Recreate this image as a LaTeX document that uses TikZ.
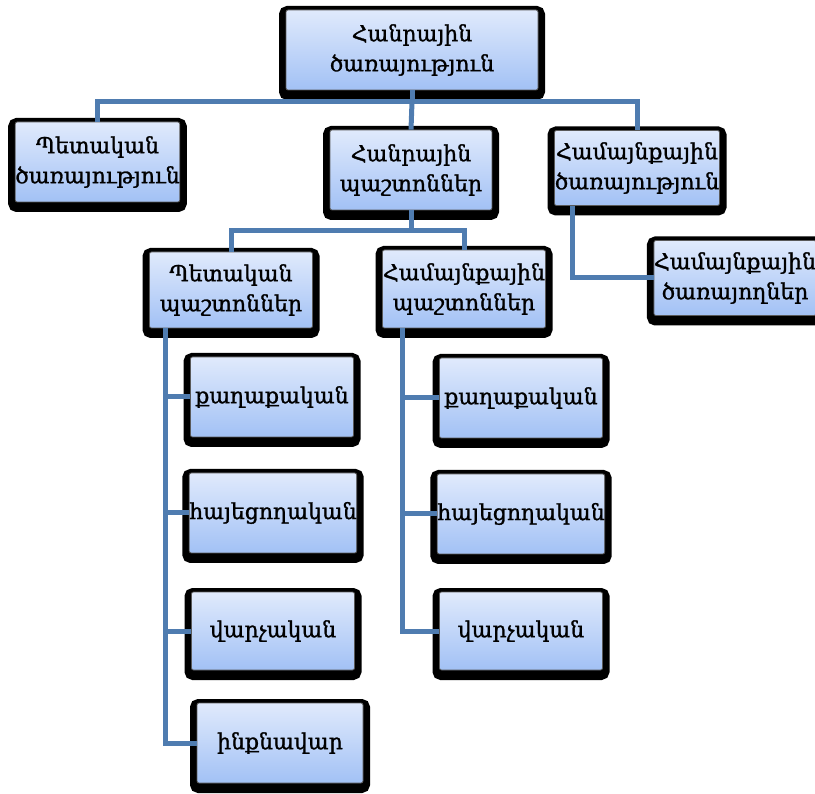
\documentclass[tikz,border=0pt]{standalone}
\usepackage{fontspec}
\setmainfont{DejaVu Serif}[FakeBold=1.2]
\usetikzlibrary{positioning,calc}
\definecolor{boxtop}{HTML}{E0EAFC}
\definecolor{boxbot}{HTML}{A2C1F5}
\definecolor{wire}{HTML}{4F7CB0}
\tikzset{
block/.style = {rectangle, rounded corners=2pt, draw=gray!70!black, line width=0.8pt,
  top color=boxtop, bottom color=boxbot, align=center, inner sep=0pt,
  minimum width=163pt, minimum height=80pt, font=\fontsize{22}{30}\selectfont,
  preaction={draw=black, line width=14pt, transform canvas={yshift=-3pt}}},
link/.style = {draw=wire, line width=5pt},
}
\begin{document}
\begin{tikzpicture}[x=1pt, y=-1pt]
    \useasboundingbox (0,0) rectangle (815,794);
    % top levels
    \node [block, minimum width=252pt] (root) at (412,50) {Հանրային\\ծառայություն};
    \node [block, minimum width=161pt] (psvc) at (97.5,162) {Պետական\\ծառայություն};
    \node [block, minimum width=162pt] (hpos) at (411,170) {Հանրային\\պաշտոններ};
    \node [block, minimum width=165pt, minimum height=75pt] (csvc) at (637,168) {Համայնքային\\ծառայություն};
    \node [block, minimum width=156pt, minimum height=75pt] (cemp) at (735,278) {Համայնքային\\ծառայողներ};
    \node [block, minimum height=76pt] (spos) at (231,290) {Պետական\\պաշտոններ};
    \node [block, minimum height=78pt] (cpos) at (464,289) {Համայնքային\\պաշտոններ};
    % state posts
    \node [block] (l1) at (272,397) {քաղաքական};
    \node [block] (l2) at (273,513) {հայեցողական};
    \node [block, minimum height=78pt] (l3) at (273,631) {վարչական};
    \node [block, minimum width=166pt] (l4) at (280,743) {ինքնավար};
    % community posts
    \node [block] (r1) at (521,398) {քաղաքական};
    \node [block] (r2) at (521,514) {հայեցողական};
    \node [block, minimum height=78pt] (r3) at (521,631) {վարչական};

    \coordinate (j0) at (412,102);
    \coordinate (j1) at (411,231);
    \draw [link] (root.south) -- (j0);
    \draw [link] (psvc.north) |- (j0) -| (csvc.north);
    \draw [link] (j0) -- (hpos.north);
    \draw [link] ([xshift=-65pt]csvc.south) |- (cemp.west);
    \draw [link] (hpos.south) -- (j1);
    \draw [link] (spos.north) |- (j1) -| (cpos.north);
    \foreach \n in {l1,l2,l3,l4}
      \draw [link] ([xshift=-66pt]spos.south) |- (\n.west);
    \foreach \n in {r1,r2,r3}
      \draw [link] ([xshift=-62pt]cpos.south) |- (\n.west);
\end{tikzpicture}
\end{document}
